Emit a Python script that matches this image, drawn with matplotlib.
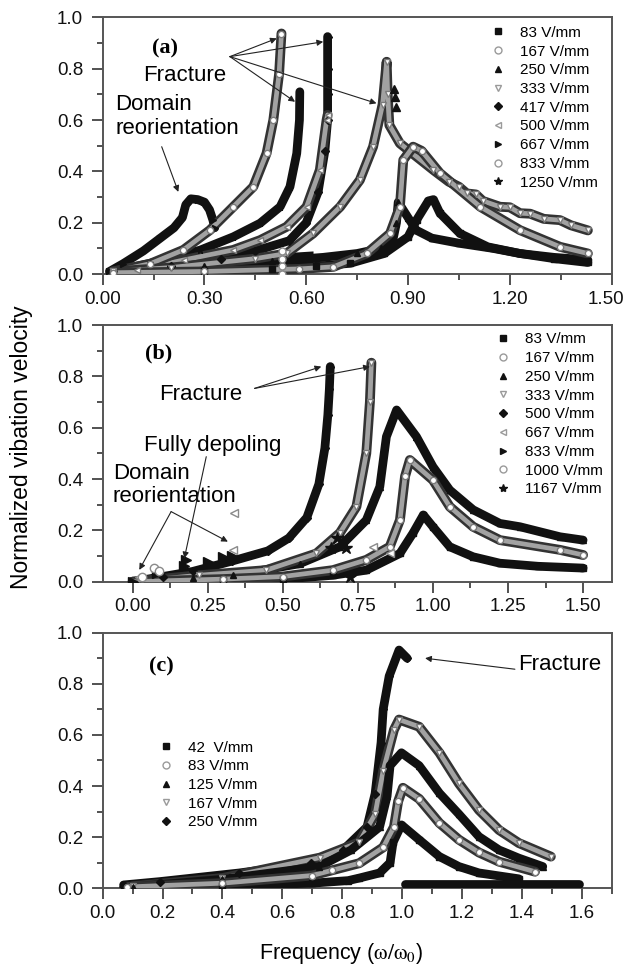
import matplotlib
matplotlib.use("Agg")
import matplotlib.pyplot as plt
import matplotlib.patheffects as pe
import matplotlib.transforms as mtransforms
from matplotlib.ticker import MultipleLocator

plt.rcParams['font.family'] = ['Liberation Sans', 'DejaVu Sans']
plt.rcParams['mathtext.fontset'] = 'stix'

# ---------------- Panel (a) data ----------------
a_labels = ["83 V/mm", "167 V/mm", "250 V/mm", "333 V/mm", "417 V/mm",
            "500 V/mm", "667 V/mm", "833 V/mm", "1250 V/mm"]
a83_x = [0.03, 0.30, 0.50, 0.63, 0.73, 0.83, 0.90, 0.925, 0.96, 0.975, 0.994, 1.053, 1.135, 1.23, 1.33, 1.43]
a83_y = [0.005, 0.01, 0.02, 0.03, 0.042, 0.08, 0.145, 0.21, 0.285, 0.29, 0.237, 0.158, 0.106, 0.08, 0.06, 0.045]
a167_x = [0.03, 0.30, 0.58, 0.68, 0.778, 0.847, 0.876, 0.886, 0.915, 0.94, 0.994, 1.113, 1.23, 1.348, 1.43]
a167_y = [0.005, 0.01, 0.02, 0.028, 0.08, 0.158, 0.262, 0.444, 0.496, 0.48, 0.393, 0.262, 0.171, 0.106, 0.08]
a250_x = [0.03, 0.30, 0.50, 0.65, 0.75, 0.82, 0.855, 0.866, 0.871, 0.90, 0.924, 0.97, 1.05, 1.15, 1.23, 1.33, 1.43]
a250_y = [0.01, 0.03, 0.05, 0.065, 0.08, 0.10, 0.13, 0.20, 0.28, 0.22, 0.171, 0.14, 0.12, 0.10, 0.08, 0.065, 0.055]
a250_frac_x = [0.86, 0.862, 0.866]
a250_frac_y = [0.72, 0.69, 0.65]
a333_x = [0.03, 0.20, 0.45, 0.542, 0.62, 0.70, 0.758, 0.797, 0.825, 0.837, 0.84, 0.845, 0.876, 0.975, 1.02, 1.05,
          1.073, 1.10, 1.12, 1.171, 1.20, 1.23, 1.26, 1.30, 1.348, 1.38, 1.43]
a333_y = [0.01, 0.025, 0.06, 0.08, 0.158, 0.262, 0.366, 0.496, 0.66, 0.827, 0.70, 0.58, 0.509, 0.405, 0.36, 0.34,
          0.314, 0.31, 0.285, 0.262, 0.26, 0.237, 0.235, 0.215, 0.21, 0.19, 0.17]
a417_x = [0.03, 0.20, 0.35, 0.45, 0.55, 0.60, 0.635, 0.655, 0.663, 0.663, 0.663, 0.663]
a417_y = [0.01, 0.03, 0.06, 0.09, 0.13, 0.20, 0.32, 0.48, 0.60, 0.70, 0.80, 0.925]
a500_x = [0.03, 0.10, 0.24, 0.385, 0.464, 0.542, 0.601, 0.64, 0.66, 0.663]
a500_y = [0.005, 0.015, 0.055, 0.094, 0.132, 0.184, 0.262, 0.405, 0.60, 0.62]
a667_x = [0.02, 0.06, 0.12, 0.17, 0.21, 0.235, 0.245, 0.26, 0.28, 0.30, 0.315, 0.325, 0.33]
a667_y = [0.01, 0.04, 0.09, 0.14, 0.18, 0.22, 0.27, 0.293, 0.29, 0.28, 0.25, 0.21, 0.18]
a833_x = [0.03, 0.14, 0.238, 0.316, 0.385, 0.444, 0.483, 0.503, 0.52, 0.527]
a833_y = [0.01, 0.04, 0.094, 0.171, 0.262, 0.34, 0.47, 0.60, 0.78, 0.937]
a833_frac_x = [0.53, 0.53, 0.53, 0.53]
a833_frac_y = [0.0, 0.03, 0.06, 0.09]
a1250_x = [0.03, 0.14, 0.287, 0.385, 0.464, 0.523, 0.552, 0.572, 0.58, 0.581]
a1250_y = [0.01, 0.042, 0.093, 0.145, 0.198, 0.262, 0.34, 0.47, 0.60, 0.71]
a_block_x = [0.44, 0.50, 0.56, 0.62]
a_block_lo = [0.02, 0.02, 0.02, 0.02]
a_block_hi = [0.07, 0.08, 0.085, 0.09]

# ---------------- Panel (b) data ----------------
b_labels = ["83 V/mm", "167 V/mm", "250 V/mm", "333 V/mm", "500 V/mm",
            "667 V/mm", "833 V/mm", "1000 V/mm", "1167 V/mm"]
b83_x = [0.0, 0.30, 0.50, 0.667, 0.778, 0.89, 0.934, 0.968, 1.0, 1.056, 1.134, 1.223, 1.35, 1.5]
b83_y = [0.0, 0.005, 0.01, 0.025, 0.045, 0.11, 0.19, 0.26, 0.214, 0.136, 0.097, 0.072, 0.06, 0.053]
b167_x = [0.0, 0.30, 0.50, 0.667, 0.778, 0.856, 0.89, 0.907, 0.923, 1.0, 1.056, 1.134, 1.223, 1.423, 1.5]
b167_y = [0.0, 0.01, 0.02, 0.045, 0.085, 0.136, 0.24, 0.41, 0.474, 0.396, 0.292, 0.214, 0.162, 0.124, 0.104]
b250_x = [0.0, 0.20, 0.334, 0.556, 0.69, 0.778, 0.823, 0.845, 0.879, 0.945, 1.0, 1.056, 1.134, 1.223, 1.29, 1.423, 1.5]
b250_y = [0.0, 0.015, 0.025, 0.07, 0.136, 0.24, 0.37, 0.565, 0.669, 0.565, 0.448, 0.357, 0.28, 0.227, 0.214, 0.175, 0.162]
b333_x = [0.0, 0.22, 0.445, 0.612, 0.69, 0.745, 0.778, 0.79, 0.795]
b333_y = [0.0, 0.025, 0.045, 0.11, 0.19, 0.292, 0.50, 0.70, 0.853]
b500_x = [0.0, 0.10, 0.20, 0.33, 0.45, 0.52, 0.58, 0.62, 0.64, 0.65, 0.655, 0.658]
b500_y = [0.0, 0.02, 0.04, 0.08, 0.12, 0.17, 0.25, 0.38, 0.52, 0.65, 0.75, 0.838]
b667_x = [0.02, 0.334, 0.339, 0.80, 0.856]
b667_y = [0.02, 0.124, 0.266, 0.135, 0.11]
b833_x = [0.0, 0.08, 0.172, 0.178, 0.25, 0.30, 0.33]
b833_y = [0.0, 0.035, 0.06, 0.085, 0.075, 0.095, 0.10]
b1000_x = [0.03, 0.072, 0.087]
b1000_y = [0.02, 0.052, 0.04]
b1167_x = [0.66, 0.68, 0.70, 0.71, 0.723]
b1167_y = [0.13, 0.17, 0.16, 0.13, 0.02]

# ---------------- Panel (c) data ----------------
c_labels = ["42  V/mm", "83 V/mm", "125 V/mm", "167 V/mm", "250 V/mm"]
c42_x = [0.07, 0.40, 0.70, 0.82, 0.857, 0.925, 0.96, 0.97, 0.998, 1.057, 1.125, 1.19, 1.257, 1.39]
c42_y = [0.003, 0.01, 0.02, 0.03, 0.04, 0.06, 0.10, 0.18, 0.248, 0.19, 0.124, 0.085, 0.06, 0.037]
c42_flat_x = [1.01, 1.2, 1.4, 1.59]
c42_flat_y = [0.017, 0.017, 0.017, 0.017]
c83_x = [0.08, 0.40, 0.70, 0.765, 0.857, 0.937, 0.973, 0.987, 1.003, 1.057, 1.125, 1.19, 1.257, 1.324, 1.444]
c83_y = [0.005, 0.02, 0.05, 0.07, 0.098, 0.16, 0.24, 0.34, 0.393, 0.35, 0.255, 0.19, 0.14, 0.104, 0.065]
c125_x = [0.10, 0.40, 0.724, 0.83, 0.925, 0.95, 0.96, 0.998, 1.057, 1.125, 1.19, 1.257, 1.324, 1.39, 1.47]
c125_y = [0.005, 0.035, 0.085, 0.15, 0.24, 0.36, 0.48, 0.53, 0.48, 0.372, 0.29, 0.202, 0.15, 0.118, 0.085]
c167_x = [0.10, 0.40, 0.726, 0.857, 0.91, 0.937, 0.973, 0.99, 1.057, 1.125, 1.19, 1.257, 1.324, 1.39, 1.497]
c167_y = [0.008, 0.04, 0.12, 0.18, 0.29, 0.46, 0.62, 0.66, 0.632, 0.53, 0.41, 0.306, 0.228, 0.177, 0.124]
c250_x = [0.07, 0.19, 0.457, 0.697, 0.803, 0.883, 0.91, 0.93, 0.937, 0.957, 0.99, 1.017]
c250_y = [0.013, 0.026, 0.06, 0.098, 0.15, 0.24, 0.37, 0.57, 0.70, 0.83, 0.932, 0.90]

# ---------------- styles ----------------
GREY_FACE = '#a2a2a2'
GREY_EDGE = '#333333'
LW = 6.3


def curve(ax, x, y, style, marker):
    if style == 'black':
        ax.plot(x, y, color='#111111', lw=LW, solid_capstyle='round',
                solid_joinstyle='round', zorder=3)
        ax.plot(x, y, ls='none', marker=marker, ms=4.5, color='#111111', zorder=4)
    else:
        ax.plot(x, y, color=GREY_FACE, lw=3.4, solid_capstyle='round',
                solid_joinstyle='round', zorder=3,
                path_effects=[pe.Stroke(linewidth=LW + 0.8, foreground=GREY_EDGE,
                                        capstyle='round', joinstyle='round'),
                              pe.Normal()])
        ax.plot(x, y, ls='none', marker=marker, ms=4.5, mfc='white',
                mec='#7a7a7a', mew=1.0, zorder=4)


def legend_entries(ax, styles, labels):
    for (st, mk), lab in zip(styles, labels):
        ms = 4.5 if mk in ('D', 's') else 5
        if mk == '*':
            ms = 6
        if st == 'black':
            ax.plot([], [], ls='none', marker=mk, ms=ms, color='#111111', label=lab)
        else:
            ax.plot([], [], ls='none', marker=mk, ms=ms, mfc='white', mec='#9a9a9a',
                    mew=1.0, label=lab)


def style_axes(ax, xmaj, xmin, xlim, xfmt):
    ax.set_xlim(*xlim)
    ax.set_ylim(0, 1.0)
    ax.xaxis.set_major_locator(MultipleLocator(xmaj))
    ax.xaxis.set_minor_locator(MultipleLocator(xmin))
    ax.yaxis.set_major_locator(MultipleLocator(0.2))
    ax.yaxis.set_minor_locator(MultipleLocator(0.1))
    ax.xaxis.set_major_formatter(plt.FormatStrFormatter(xfmt))
    ax.yaxis.set_major_formatter(plt.FormatStrFormatter('%.1f'))
    ax.tick_params(which='both', direction='out', top=False, right=False,
                   color='#333333', width=1.2, labelsize=13.5, labelcolor='#111111')
    ax.tick_params(which='major', length=8)
    ax.tick_params(which='minor', length=4)
    ax.tick_params(axis='y', pad=6)
    ax.tick_params(axis='x', pad=4)
    for s in ax.spines.values():
        s.set_color('#555555')
        s.set_linewidth(1.4)


def arrow(ax, start, end):
    ax.annotate('', xy=end, xytext=start,
                arrowprops=dict(arrowstyle='-|>', lw=0.8, color='#222222',
                                mutation_scale=9, shrinkA=0, shrinkB=0), zorder=6)


def leg(ax, x0, y0):
    ax.legend(loc='upper left', bbox_to_anchor=(x0, y0), frameon=False,
              fontsize=11, handlelength=0.8, handletextpad=1.05,
              labelspacing=0.31, borderpad=0, borderaxespad=0, numpoints=1)


fig = plt.figure(figsize=(6.26, 9.69), dpi=100)
fig.patch.set_facecolor('white')

axa = fig.add_axes([0.164, 0.7172, 0.813, 0.2649])
axb = fig.add_axes([0.164, 0.3997, 0.813, 0.2649])
axc = fig.add_axes([0.164, 0.0833, 0.813, 0.2638])

# ---- Panel (a)
axa.fill_between(a_block_x, a_block_lo, a_block_hi, color='#111111', lw=0, zorder=2)
curve(axa, a83_x, a83_y, 'black', 's')
curve(axa, a250_x, a250_y, 'black', '^')
curve(axa, a1250_x, a1250_y, 'black', '*')
curve(axa, a667_x, a667_y, 'black', '>')
curve(axa, a417_x, a417_y, 'black', 'D')
curve(axa, a500_x, a500_y, 'grey', '<')
curve(axa, a833_x, a833_y, 'grey', 'o')
curve(axa, a333_x, a333_y, 'grey', 'v')
curve(axa, a167_x, a167_y, 'grey', 'o')
axa.plot(a250_frac_x, a250_frac_y, ls='none', marker='^', ms=6, color='#111111', zorder=5)
axa.plot(a833_frac_x, a833_frac_y, ls='none', marker='o', ms=5, mfc='white', mec='#8a8a8a', zorder=5)
a_styles = [('black', 's'), ('grey', 'o'), ('black', '^'), ('grey', 'v'), ('black', 'D'),
            ('grey', '<'), ('black', '>'), ('grey', 'o'), ('black', '*')]
legend_entries(axa, a_styles, a_labels)
style_axes(axa, 0.30, 0.15, (0, 1.5), '%.2f')
leg(axa, 0.765, 0.967)
axa.text(0.122, 0.879, '(a)', transform=axa.transAxes, ha='center', va='center',
         fontsize=16, fontweight='bold', family=['Liberation Serif', 'DejaVu Serif'])
axa.text(0.241, 0.775, 'Fracture', ha='center', va='center', fontsize=16)
for tgt in [(0.513, 0.918), (0.65, 0.905), (0.567, 0.671), (0.807, 0.665)]:
    arrow(axa, (0.375, 0.847), tgt)
axa.text(0.0365, 0.614, 'Domain\nreorientation', ha='left', va='center', fontsize=16,
         linespacing=1.15)
arrow(axa, (0.174, 0.496), (0.223, 0.32))

# ---- Panel (b)
curve(axb, b83_x, b83_y, 'black', 's')
curve(axb, b500_x, b500_y, 'black', 'D')
curve(axb, b250_x, b250_y, 'black', '^')
curve(axb, b333_x, b333_y, 'grey', 'v')
curve(axb, b167_x, b167_y, 'grey', 'o')
axb.plot(b833_x, b833_y, ls='none', marker='>', ms=7, color='#111111', zorder=5)
axb.plot(b1167_x, b1167_y, ls='none', marker='*', ms=9, color='#111111', zorder=5)
axb.plot(b667_x, b667_y, ls='none', marker='<', ms=6, mfc='white', mec='#8a8a8a', zorder=5)
axb.plot(b1000_x, b1000_y, ls='none', marker='o', ms=6, mfc='white', mec='#8a8a8a', zorder=5)
b_styles = [('black', 's'), ('grey', 'o'), ('black', '^'), ('grey', 'v'), ('black', 'D'),
            ('grey', '<'), ('black', '>'), ('grey', 'o'), ('black', '*')]
legend_entries(axb, b_styles, b_labels)
style_axes(axb, 0.25, 0.125, (-0.1, 1.595), '%.2f')
leg(axb, 0.7745, 0.971)
axb.text(0.109, 0.89, '(b)', transform=axb.transAxes, ha='center', va='center',
         fontsize=16, fontweight='bold', family=['Liberation Serif', 'DejaVu Serif'])
axb.text(0.228, 0.731, 'Fracture', ha='center', va='center', fontsize=16)
arrow(axb, (0.406, 0.753), (0.628, 0.838))
arrow(axb, (0.406, 0.753), (0.79, 0.838))
axb.text(0.267, 0.529, 'Fully depoling', ha='center', va='center', fontsize=16)
arrow(axb, (0.245, 0.487), (0.172, 0.091))
axb.text(-0.0667, 0.377, 'Domain\nreorientation', ha='left', va='center', fontsize=16,
         linespacing=1.15)
arrow(axb, (0.128, 0.273), (0.022, 0.046))
arrow(axb, (0.128, 0.273), (0.317, 0.156))

# ---- Panel (c)
curve(axc, c42_x, c42_y, 'black', 's')
curve(axc, c250_x, c250_y, 'black', 'D')
curve(axc, c167_x, c167_y, 'grey', 'v')
curve(axc, c125_x, c125_y, 'black', '^')
curve(axc, c83_x, c83_y, 'grey', 'o')
axc.plot(c42_flat_x, c42_flat_y, color='#111111', lw=LW, solid_capstyle='round', zorder=3)
c_styles = [('black', 's'), ('grey', 'o'), ('black', '^'), ('grey', 'v'), ('black', 'D')]
legend_entries(axc, c_styles, c_labels)
style_axes(axc, 0.2, 0.1, (0, 1.7), '%.1f')
leg(axc, 0.112, 0.578)
axc.text(0.116, 0.867, '(c)', transform=axc.transAxes, ha='center', va='center',
         fontsize=16, fontweight='bold', family=['Liberation Serif', 'DejaVu Serif'])
axc.text(1.527, 0.874, 'Fracture', ha='center', va='center', fontsize=16)
arrow(axc, (1.377, 0.857), (1.077, 0.90))

fig.text(22 / 626, 1 - 447 / 969, 'Normalized vibation velocity', rotation=90,
         ha='center', va='center', fontsize=16.5)
fig.text(341 / 626, 1 - 953 / 969, r'Frequency ($\mathrm{\omega/\omega_{0}}$)',
         ha='center', va='center', fontsize=15.5)

# nudge the last tick label of panel (a) so it stays inside the figure
fig.canvas.draw()
shift = mtransforms.ScaledTranslation(-6 / 100, 0, fig.dpi_scale_trans)
for t in axa.xaxis.get_major_ticks():
    if abs(t.get_loc() - 1.5) < 1e-6:
        t.label1.set_transform(t.label1.get_transform() + shift)

fig.savefig('out.png', dpi=100, facecolor='white')
